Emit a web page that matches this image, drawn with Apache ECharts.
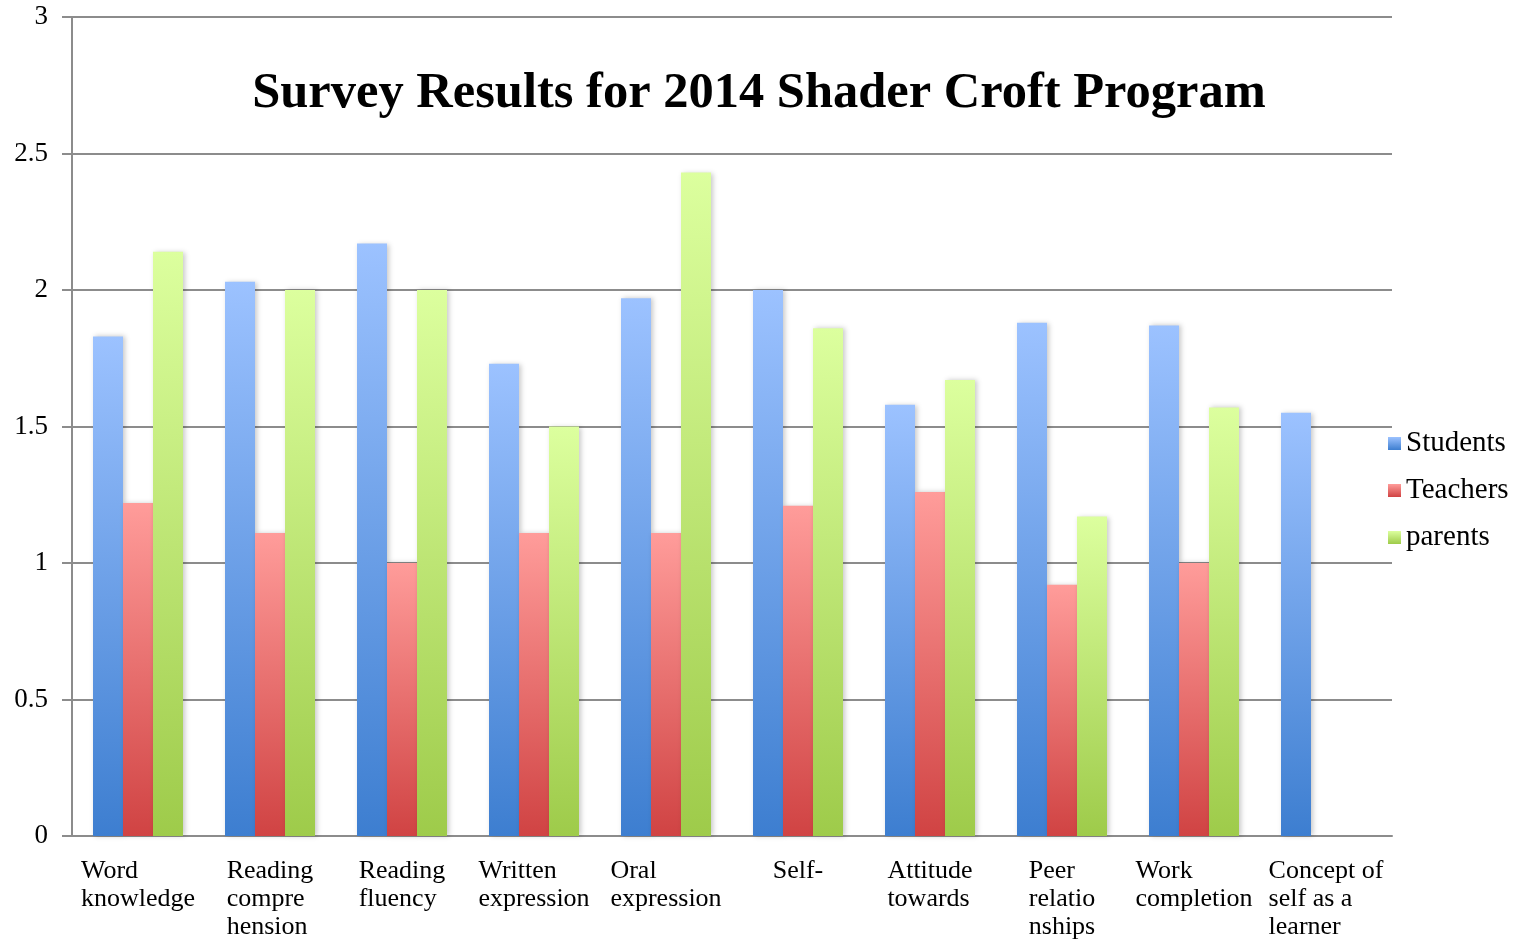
<!DOCTYPE html>
<html>
<head>
<meta charset="utf-8">
<script src="https://cdn.jsdelivr.net/npm/echarts@6/dist/echarts.min.js"></script>
<style>html,body{margin:0;padding:0;background:#fff}#c{width:1515px;height:940px}</style>
</head>
<body>
<div id="c"></div>
<script>
const categories = ["Word\nknowledge", "Reading\ncompre\nhension", "Reading\nfluency", "Written\nexpression", "Oral\nexpression", "Self-", "Attitude\ntowards", "Peer\nrelatio\nnships", "Work\ncompletion", "Concept of\nself as a\nlearner"];
const students = [1.83, 2.03, 2.17, 1.73, 1.97, 2.0, 1.58, 1.88, 1.87, 1.55];
const teachers = [1.22, 1.11, 1.0, 1.11, 1.11, 1.21, 1.26, 0.92, 1.0, null];
const parents = [2.14, 2.0, 2.0, 1.5, 2.43, 1.86, 1.67, 1.17, 1.57, null];
const seriesNames = ["Students", "Teachers", "parents"];
const yTicks = [0, 0.5, 1, 1.5, 2, 2.5, 3];

const FONT = "'Liberation Serif', 'DejaVu Serif', serif";
function grad(top, bottom) {
  return new echarts.graphic.LinearGradient(0, 0, 0, 1, [
    { offset: 0, color: top }, { offset: 1, color: bottom }
  ]);
}
const colors = [
  ["#9cc2ff", "#3d7ed0"],
  ["#ff9c9a", "#d04343"],
  ["#dcff9e", "#9ecb4a"]
];
const values = [students, teachers, parents];

const chart = echarts.init(document.getElementById('c'));
chart.setOption({
  animation: false,
  title: {
    text: "Survey Results for 2014 Shader Croft Program",
    left: 754, top: 63, textAlign: 'center',
    textStyle: { fontFamily: FONT, fontWeight: 'bold', fontSize: 50.5, color: '#000' }
  },
  legend: {
    orient: 'vertical', left: 1383, top: 424, itemGap: 18,
    itemWidth: 13, itemHeight: 13, icon: 'rect',
    textStyle: { fontFamily: FONT, fontSize: 29, color: '#000', padding: [0, 0, 0, 0] },
    data: seriesNames
  },
  grid: { left: 72, right: 123, top: 17, bottom: 103, containLabel: false },
  xAxis: {
    type: 'category', data: categories,
    axisLine: { lineStyle: { color: '#8c8c8c', width: 2 } },
    axisTick: { show: false },
    axisLabel: {
      interval: 0, margin: 21, align: 'center', verticalAlign: 'top',
      formatter: v => v.split('\n').map(l => '{a|' + l + '}').join('\n'),
      rich: { a: { align: 'left', fontFamily: FONT, fontSize: 26, lineHeight: 28, color: '#000' } }
    }
  },
  yAxis: {
    type: 'value', min: 0, max: 3, interval: 0.5,
    axisLine: { show: true, lineStyle: { color: '#8c8c8c', width: 2 } },
    axisTick: { show: true, length: 10, lineStyle: { color: '#8c8c8c', width: 2 } },
    splitLine: { lineStyle: { color: '#8c8c8c', width: 2 } },
    axisLabel: { margin: 24, fontFamily: FONT, fontSize: 27, color: '#000',
      formatter: v => String(yTicks.find(t => Math.abs(t - v) < 1e-9) ?? v) }
  },
  series: seriesNames.map((n, i) => ({
    name: n, type: 'bar', data: values[i], barWidth: 30, barGap: '0%',
    itemStyle: {
      color: grad(colors[i][0], colors[i][1]),
      shadowBlur: 5, shadowColor: 'rgba(0,0,0,0.22)', shadowOffsetX: 2, shadowOffsetY: 0
    }
  }))
});
</script>
</body>
</html>
